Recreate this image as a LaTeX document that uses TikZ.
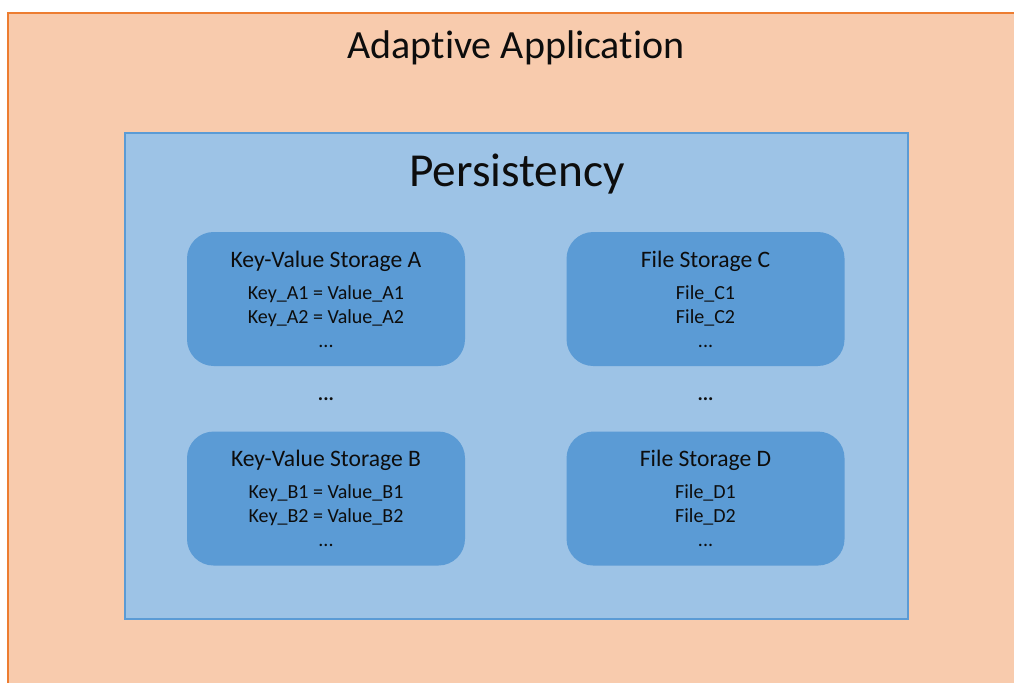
\documentclass[tikz,border=0pt]{standalone}
\usepackage{fontspec}
\setmainfont[Ligatures=NoCommon]{Carlito}
\usetikzlibrary{positioning, calc}

\definecolor{appfill}{HTML}{F8CBAD}
\definecolor{appline}{HTML}{ED7D31}
\definecolor{persfill}{HTML}{9DC3E6}
\definecolor{persline}{HTML}{5B9BD5}
\definecolor{storefill}{HTML}{5B9BD5}
\definecolor{inktext}{HTML}{0D0D0D}

\newcommand{\storetitle}[1]{{\fontsize{17.7}{21}\selectfont #1}\\[6pt]}

\begin{document}
\begin{tikzpicture}[
  x=0.75pt, y=-0.75pt,
  app/.style={draw=appline, line width=1.5pt, fill=appfill},
  persist/.style={draw=persline, line width=1.2pt, fill=persfill,
                  minimum width=587pt, minimum height=364.5pt},
  store/.style={fill=storefill, rounded corners=20pt, minimum width=208.5pt,
                minimum height=100.5pt, align=center, inner sep=0pt,
                font=\fontsize{15}{18}\selectfont, text=inktext},
  dotsnode/.style={font=\fontsize{15}{18}\selectfont\bfseries, text=inktext, inner sep=0pt},
  every node/.style={text=inktext}
]
  \useasboundingbox (0,0) rectangle (1014,682);
  \clip (0,0) rectangle (1014,682);

  % Application frame
  \draw[app] (8,13) rectangle (1040,710);
  \node[font=\fontsize{30}{36}\selectfont] (apptitle) at (516,48) {Adaptive Application};

  % Persistency frame
  \node[persist] (persist) at (516.5,376) {};
  \node[font=\fontsize{35.5}{42}\selectfont] (perstitle) at (517,174) {Persistency};

  % Storages
  \node[store] (kvA) at (326,299)
    {\storetitle{Key-Value Storage A}Key\_A1 = Value\_A1\\ Key\_A2 = Value\_A2\\ ...};
  \node[store, right=75.75pt of kvA] (fileC)
    {\storetitle{File Storage C}File\_C1\\ File\_C2\\ ...};
  \node[store, below=48.75pt of kvA] (kvB)
    {\storetitle{Key-Value Storage B}Key\_B1 = Value\_B1\\ Key\_B2 = Value\_B2\\ ...};
  \node[store, below=48.75pt of fileC] (fileD)
    {\storetitle{File Storage D}File\_D1\\ File\_D2\\ ...};

  % Dots between storages
  \node[dotsnode] (kvdots) at ($(kvA.south)!0.5!(kvB.north)$) {...};
  \node[dotsnode] (filedots) at ($(fileC.south)!0.5!(fileD.north)$) {...};
\end{tikzpicture}
\end{document}
